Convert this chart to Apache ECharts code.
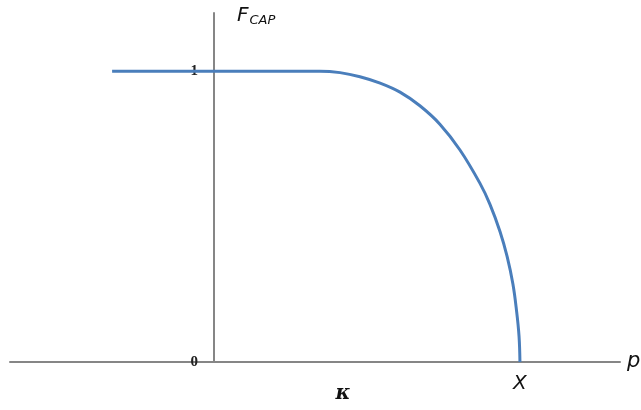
<!DOCTYPE html>
<html>
<head>
<meta charset="utf-8">
<script src="https://cdn.jsdelivr.net/npm/echarts@6/dist/echarts.min.js"></script>
<style>
  html, body { margin: 0; padding: 0; background: #fff; }
  #chart { width: 641px; height: 410px; }
</style>
</head>
<body>
<div id="chart"></div>
<script>
// Cap function F_CAP(p): flat at 1 up to kappa, then falls to 0 at X
const priceValues = [-3.33, 3.46, 4.12, 4.77, 5.43, 6.08, 6.73, 7.39, 8.04, 8.69, 9.02, 9.35, 9.58, 9.77, 9.89, 9.97, 10.0];
const capValues   = [1.0,   1.0,  0.995, 0.981, 0.959, 0.928, 0.881, 0.817, 0.729, 0.615, 0.542, 0.448, 0.363, 0.268, 0.175, 0.089, 0.0];

// Marked points on the price axis
const xMarkValues = [4.22, 10.0];
const xMarkLabels = ['κ', 'X'];

// Ticks shown on the vertical axis
const yTickValues = [0, 1];
const yTickLabels = ['0', '1'];

const axisGray = '#868686';
const lineBlue = '#4a7ebb';

const chart = echarts.init(document.getElementById('chart'));

chart.setOption({
  animation: false,
  backgroundColor: '#ffffff',
  grid: { left: 10, right: 21, top: 13, bottom: 48, outerBoundsMode: 'none', containLabel: false },
  xAxis: {
    type: 'value',
    min: -6.667,
    max: 13.27,
    splitLine: { show: false },
    axisLine: { show: true, onZero: true, lineStyle: { color: axisGray, width: 2 } },
    axisTick: { show: false },
    axisLabel: {
      show: true,
      customValues: xMarkValues,
      formatter: function (v) {
        const i = xMarkValues.indexOf(v);
        if (i === 0) return '{k|' + xMarkLabels[0] + '}';
        if (i === 1) return '{x|' + xMarkLabels[1] + '}';
        return '';
      },
      margin: 12,
      rich: {
        k: { fontFamily: 'DejaVu Serif', fontStyle: 'italic', fontWeight: 'bold', fontSize: 20, color: '#111', padding: [10, 0, 0, 0] },
        x: { fontFamily: 'DejaVu Sans', fontStyle: 'italic', fontSize: 20, color: '#111' }
      }
    },
    name: 'p',
    nameLocation: 'end',
    nameGap: 7,
    nameTextStyle: { fontFamily: 'DejaVu Sans', fontStyle: 'italic', fontSize: 21, color: '#111', verticalAlign: 'middle', padding: [10, 0, 0, 0] }
  },
  yAxis: {
    type: 'value',
    min: 0,
    max: 1.2,
    splitLine: { show: false },
    axisLine: { show: true, onZero: true, lineStyle: { color: axisGray, width: 2 } },
    axisTick: { show: false },
    axisLabel: {
      show: true,
      customValues: yTickValues,
      formatter: function (v) {
        const i = yTickValues.indexOf(v);
        return i >= 0 ? yTickLabels[i] : '';
      },
      margin: -188,
      fontFamily: 'Liberation Serif',
      fontWeight: 'bold',
      fontSize: 15,
      color: '#222'
    },
    name: '{f|F}{s|CAP}',
    nameLocation: 'end',
    nameGap: 0,
    nameTextStyle: {
      align: 'left',
      verticalAlign: 'top',
      padding: [-8, 0, 0, 23],
      rich: {
        f: { fontFamily: 'DejaVu Sans', fontStyle: 'italic', fontSize: 20, color: '#111' },
        s: { fontFamily: 'DejaVu Sans', fontStyle: 'italic', fontSize: 13, color: '#111', padding: [9, 0, 0, 1] }
      }
    }
  },
  series: [{
    type: 'line',
    data: priceValues.map((x, i) => [x, capValues[i]]),
    smooth: 0.4,
    showSymbol: false,
    lineStyle: { color: lineBlue, width: 3 },
    z: 3
  }]
});
</script>
</body>
</html>
